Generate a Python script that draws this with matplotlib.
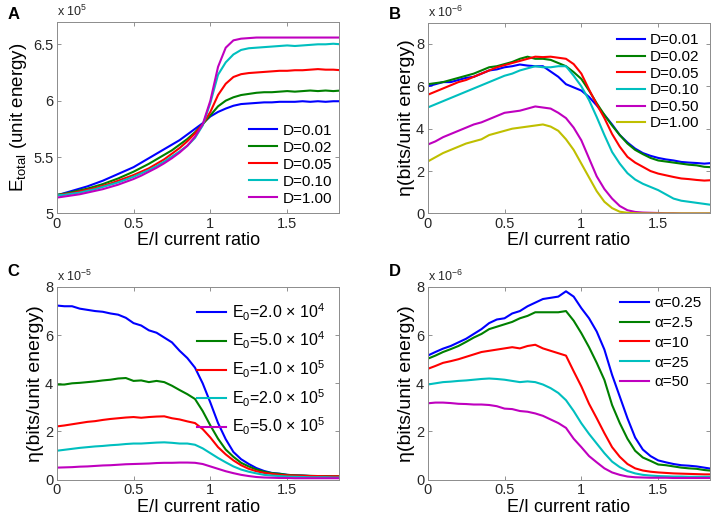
import matplotlib
matplotlib.use("Agg")

import matplotlib.pyplot as plt
from matplotlib.ticker import FormatStrFormatter
import numpy as np

plt.rcParams["font.family"] = ["Liberation Sans", "DejaVu Sans"]
plt.rcParams["mathtext.fontset"] = "custom"
plt.rcParams["mathtext.rm"] = "Liberation Sans"
plt.rcParams["mathtext.it"] = "Liberation Sans:italic"

# E/I current ratio (shared x grid of every panel)
ratio = [0.00, 0.05, 0.10, 0.15, 0.20, 0.25, 0.30, 0.35, 0.40, 0.45,
         0.50, 0.55, 0.60, 0.65, 0.70, 0.75, 0.80, 0.85, 0.90, 0.95,
         1.00, 1.05, 1.10, 1.15, 1.20, 1.25, 1.30, 1.35, 1.40, 1.45,
         1.50, 1.55, 1.60, 1.65, 1.70, 1.75, 1.80, 1.85]

# panel A: total energy (x 1e5)
labels_a = ["D=0.01", "D=0.02", "D=0.05", "D=0.10", "D=1.00"]
etot_d001 = [5.16, 5.18, 5.20, 5.22, 5.24, 5.265, 5.29, 5.32, 5.35, 5.38,
             5.41, 5.45, 5.49, 5.53, 5.57, 5.61, 5.65, 5.70, 5.75, 5.80,
             5.86, 5.90, 5.93, 5.955, 5.97, 5.975, 5.98, 5.985, 5.985, 5.99,
             5.99, 5.99, 5.995, 5.99, 5.995, 5.99, 5.995, 5.995]
etot_d002 = [5.165, 5.175, 5.19, 5.205, 5.22, 5.24, 5.26, 5.285, 5.31, 5.34,
             5.37, 5.405, 5.44, 5.48, 5.52, 5.56, 5.61, 5.66, 5.72, 5.79,
             5.87, 5.95, 6.00, 6.03, 6.05, 6.06, 6.07, 6.075, 6.075, 6.08,
             6.085, 6.08, 6.085, 6.09, 6.085, 6.09, 6.085, 6.09]
etot_d005 = [5.16, 5.17, 5.18, 5.195, 5.21, 5.225, 5.245, 5.265, 5.29, 5.315,
             5.34, 5.37, 5.40, 5.44, 5.48, 5.53, 5.58, 5.64, 5.71, 5.79,
             5.90, 6.05, 6.15, 6.21, 6.235, 6.245, 6.25, 6.255, 6.26, 6.265,
             6.265, 6.27, 6.27, 6.275, 6.28, 6.275, 6.275, 6.27]
etot_d010 = [5.16, 5.165, 5.175, 5.185, 5.20, 5.215, 5.235, 5.255, 5.275, 5.30,
             5.325, 5.355, 5.385, 5.42, 5.46, 5.505, 5.55, 5.60, 5.67, 5.78,
             5.98, 6.23, 6.34, 6.41, 6.45, 6.465, 6.47, 6.475, 6.48, 6.485,
             6.49, 6.485, 6.49, 6.495, 6.50, 6.50, 6.505, 6.50]
etot_d100 = [5.14, 5.15, 5.16, 5.17, 5.185, 5.20, 5.215, 5.235, 5.255, 5.28,
             5.305, 5.335, 5.37, 5.405, 5.445, 5.49, 5.54, 5.60, 5.68, 5.79,
             6.00, 6.30, 6.47, 6.535, 6.55, 6.555, 6.56, 6.56, 6.56, 6.56,
             6.56, 6.56, 6.56, 6.56, 6.56, 6.56, 6.56, 6.56]

# panel B: efficiency vs noise D (x 1e-6)
labels_b = ["D=0.01", "D=0.02", "D=0.05", "D=0.10", "D=0.50", "D=1.00"]
eta_d001 = [6.0, 6.1, 6.2, 6.2, 6.3, 6.4, 6.45, 6.6, 6.75, 6.8,
            6.9, 6.95, 7.03, 6.98, 6.95, 6.95, 6.7, 6.45, 6.1, 5.95,
            5.8, 5.5, 5.1, 4.65, 4.2, 3.7, 3.35, 3.06, 2.85, 2.72,
            2.62, 2.55, 2.5, 2.43, 2.4, 2.38, 2.35, 2.38]
eta_d002 = [6.1, 6.15, 6.2, 6.3, 6.4, 6.5, 6.6, 6.75, 6.9, 6.95,
            7.05, 7.15, 7.3, 7.4, 7.3, 7.3, 7.25, 7.1, 6.95, 6.67,
            6.35, 5.8, 5.2, 4.65, 4.15, 3.7, 3.3, 3.0, 2.8, 2.62,
            2.5, 2.45, 2.4, 2.35, 2.3, 2.27, 2.2, 2.18]
eta_d005 = [5.6, 5.75, 5.9, 6.05, 6.2, 6.3, 6.45, 6.6, 6.75, 6.9,
            7.0, 7.1, 7.2, 7.3, 7.4, 7.38, 7.4, 7.35, 7.3, 7.05,
            6.6, 5.85, 5.15, 4.5, 3.75, 3.15, 2.67, 2.4, 2.2, 2.0,
            1.88, 1.8, 1.72, 1.65, 1.62, 1.58, 1.55, 1.57]
eta_d010 = [5.0, 5.15, 5.3, 5.45, 5.6, 5.75, 5.9, 6.05, 6.2, 6.35,
            6.5, 6.6, 6.75, 6.85, 6.95, 6.9, 6.9, 6.95, 6.95, 6.5,
            6.0, 5.35, 4.55, 3.7, 2.9, 2.35, 1.9, 1.6, 1.4, 1.25,
            1.1, 0.9, 0.7, 0.6, 0.55, 0.5, 0.45, 0.4]
eta_d050 = [3.25, 3.4, 3.6, 3.75, 3.9, 4.05, 4.2, 4.3, 4.45, 4.6,
            4.75, 4.8, 4.85, 4.95, 5.05, 5.0, 4.95, 4.75, 4.5, 4.05,
            3.45, 2.6, 1.75, 1.15, 0.7, 0.35, 0.15, 0.07, 0.04, 0.03,
            0.02, 0.01, 0.01, 0.0, 0.0, 0.0, 0.0, 0.0]
eta_d100 = [2.45, 2.65, 2.85, 3.0, 3.15, 3.3, 3.4, 3.5, 3.7, 3.8,
            3.9, 4.0, 4.05, 4.1, 4.15, 4.2, 4.1, 3.9, 3.5, 3.0,
            2.35, 1.7, 1.05, 0.55, 0.25, 0.08, 0.03, 0.01, 0.0, 0.0,
            0.0, 0.0, 0.0, 0.0, 0.0, 0.0, 0.0, 0.0]

# panel C: efficiency vs E0 (x 1e-5)
labels_c = ["E$_0$=2.0 \u00d7 10$^4$", "E$_0$=5.0 \u00d7 10$^4$",
            "E$_0$=1.0 \u00d7 10$^5$", "E$_0$=2.0 \u00d7 10$^5$",
            "E$_0$=5.0 \u00d7 10$^5$"]
eta_e2e4 = [7.23, 7.2, 7.2, 7.1, 7.05, 7.0, 6.97, 6.9, 6.85, 6.72,
            6.5, 6.4, 6.2, 6.1, 5.9, 5.7, 5.35, 5.05, 4.65, 4.0,
            3.2, 2.35, 1.68, 1.15, 0.85, 0.65, 0.48, 0.36, 0.28, 0.25,
            0.2, 0.18, 0.17, 0.15, 0.14, 0.14, 0.13, 0.13]
eta_e5e4 = [3.95, 3.95, 4.0, 4.02, 4.05, 4.08, 4.12, 4.15, 4.2, 4.22,
            4.1, 4.12, 4.05, 4.1, 4.05, 3.9, 3.72, 3.55, 3.35, 2.85,
            2.25, 1.7, 1.25, 0.95, 0.7, 0.55, 0.42, 0.33, 0.27, 0.24,
            0.2, 0.18, 0.17, 0.16, 0.15, 0.15, 0.14, 0.14]
eta_e1e5 = [2.21, 2.25, 2.3, 2.35, 2.4, 2.43, 2.48, 2.52, 2.55, 2.58,
            2.6, 2.57, 2.6, 2.62, 2.63, 2.55, 2.5, 2.42, 2.35, 2.1,
            1.75, 1.35, 1.05, 0.8, 0.6, 0.45, 0.35, 0.28, 0.24, 0.2,
            0.18, 0.17, 0.16, 0.15, 0.15, 0.14, 0.14, 0.14]
eta_e2e5 = [1.2, 1.24, 1.28, 1.32, 1.35, 1.38, 1.4, 1.43, 1.45, 1.48,
            1.5, 1.5, 1.52, 1.54, 1.55, 1.53, 1.5, 1.5, 1.45, 1.3,
            1.1, 0.9, 0.72, 0.55, 0.42, 0.33, 0.26, 0.2, 0.17, 0.15,
            0.13, 0.12, 0.11, 0.1, 0.1, 0.1, 0.09, 0.09]
eta_e5e5 = [0.5, 0.51, 0.52, 0.54, 0.55, 0.57, 0.59, 0.6, 0.62, 0.64,
            0.65, 0.66, 0.67, 0.69, 0.7, 0.7, 0.71, 0.71, 0.7, 0.65,
            0.55, 0.45, 0.35, 0.27, 0.2, 0.15, 0.11, 0.09, 0.08, 0.07,
            0.07, 0.06, 0.06, 0.06, 0.06, 0.06, 0.06, 0.06]

# panel D: efficiency vs alpha (x 1e-6)
labels_d = ["\u03b1=0.25", "\u03b1=2.5", "\u03b1=10", "\u03b1=25", "\u03b1=50"]
eta_a025 = [5.15, 5.3, 5.44, 5.55, 5.7, 5.85, 6.05, 6.25, 6.5, 6.65,
            6.7, 6.9, 7.0, 7.2, 7.35, 7.5, 7.55, 7.6, 7.82, 7.6,
            7.12, 6.7, 6.15, 5.4, 4.35, 3.45, 2.55, 1.75, 1.25, 0.98,
            0.8, 0.72, 0.65, 0.6, 0.58, 0.55, 0.5, 0.45]
eta_a25 = [5.02, 5.15, 5.3, 5.42, 5.55, 5.72, 5.9, 6.05, 6.25, 6.35,
           6.45, 6.55, 6.7, 6.8, 6.95, 6.95, 6.95, 6.95, 7.0, 6.6,
           6.08, 5.5, 4.85, 4.14, 3.1, 2.35, 1.7, 1.2, 0.92, 0.78,
           0.63, 0.6, 0.55, 0.5, 0.47, 0.45, 0.4, 0.37]
eta_a10 = [4.6, 4.72, 4.85, 4.92, 5.0, 5.1, 5.2, 5.3, 5.35, 5.4,
           5.45, 5.5, 5.45, 5.55, 5.6, 5.45, 5.35, 5.25, 5.15, 4.5,
           3.87, 3.15, 2.55, 1.93, 1.35, 0.95, 0.65, 0.47, 0.38, 0.33,
           0.3, 0.28, 0.26, 0.25, 0.24, 0.23, 0.22, 0.22]
eta_a25b = [3.95, 4.0, 4.05, 4.07, 4.1, 4.12, 4.15, 4.18, 4.2, 4.18,
            4.15, 4.1, 4.05, 4.08, 4.05, 3.95, 3.8, 3.6, 3.3, 2.85,
            2.34, 1.9, 1.5, 1.1, 0.75, 0.52, 0.36, 0.26, 0.2, 0.17,
            0.15, 0.14, 0.13, 0.13, 0.12, 0.12, 0.12, 0.12]
eta_a50 = [3.17, 3.2, 3.2, 3.18, 3.15, 3.14, 3.12, 3.12, 3.1, 3.05,
           2.95, 2.93, 2.85, 2.82, 2.75, 2.65, 2.5, 2.35, 2.15, 1.7,
           1.35, 0.98, 0.72, 0.47, 0.3, 0.2, 0.13, 0.1, 0.09, 0.08,
           0.08, 0.08, 0.07, 0.07, 0.07, 0.07, 0.07, 0.07]

# matlab default line colours
colors = ["#0000ff", "#008000", "#ff0000", "#00bfbf", "#bf00bf", "#bfbf00"]

ETA_LABEL = "\u03b7(bits/unit energy)"

fig = plt.figure(figsize=(7.14, 5.18), dpi=100)

def setup_axes(rect, ylim, yticks, ylabel, ylsize, ylpad, expo, letter, letter_xy):
	ax = fig.add_axes(rect)
	ax.set_xlim(0, 1.84)
	ax.set_ylim(*ylim)
	ax.set_xticks([0, 0.5, 1, 1.5])
	ax.set_yticks(yticks)
	ax.xaxis.set_major_formatter(FormatStrFormatter("%g"))
	ax.yaxis.set_major_formatter(FormatStrFormatter("%g"))
	ax.tick_params(direction="in", length=3, width=0.6, top=True,
		right=True, labelsize=10.5, colors="0.5", labelcolor="0.15", pad=2.5)
	for s in ax.spines.values():
		s.set_color("0.55")
		s.set_linewidth(0.7)
	ax.set_xlabel("E/I current ratio", fontsize=13, labelpad=1)
	ax.set_ylabel(ylabel, fontsize=ylsize, labelpad=ylpad)
	ax.text(0.0, 1.015, expo, transform=ax.transAxes, fontsize=9,
		color="0.15", va="bottom", ha="left")
	fig.text(letter_xy[0], letter_xy[1], letter, fontsize=12,
		fontweight="bold", va="center", ha="left")
	return ax

def add_legend(ax, loc, size, spacing, pad):
	ax.legend(loc=loc, frameon=False, fontsize=size, handlelength=1.85,
		handletextpad=0.35, labelspacing=spacing, borderaxespad=pad,
		borderpad=0.2)

# panel A
axA = setup_axes([0.0794, 0.588, 0.396, 0.370], (5, 6.7), [5, 5.5, 6, 6.5],
	r"E$_{\rm total}$ (unit energy)", 13.5, 3, r"x 10$^{5}$", "A", (0.011, 0.972))
for vals, lab, c in zip([etot_d001, etot_d002, etot_d005, etot_d010, etot_d100],
		labels_a, colors[:5]):
	axA.plot(ratio, vals, color=c, lw=1.5, label=lab)
add_legend(axA, "lower right", 11, 0.2, 0.3)

# panel B
axB = setup_axes([0.599, 0.588, 0.396, 0.368], (0, 9), [0, 2, 4, 6, 8],
	ETA_LABEL, 14, 0.5, r"x 10$^{-6}$", "B", (0.545, 0.972))
for vals, lab, c in zip([eta_d001, eta_d002, eta_d005, eta_d010, eta_d050, eta_d100],
		labels_b, colors):
	axB.plot(ratio, vals, color=c, lw=1.5, label=lab)
add_legend(axB, "upper right", 11, 0.17, 0.5)

# panel C
axC = setup_axes([0.0794, 0.074, 0.396, 0.372], (0, 8), [0, 2, 4, 6, 8],
	ETA_LABEL, 14, 0.5, r"x 10$^{-5}$", "C", (0.011, 0.475))
for vals, lab, c in zip([eta_e2e4, eta_e5e4, eta_e1e5, eta_e2e5, eta_e5e5],
		labels_c, colors[:5]):
	axC.plot(ratio, vals, color=c, lw=1.5, label=lab)
add_legend(axC, "upper right", 11.5, 0.45, 0.7)

# panel D
axD = setup_axes([0.599, 0.074, 0.396, 0.372], (0, 8), [0, 2, 4, 6, 8],
	ETA_LABEL, 14, 0.5, r"x 10$^{-6}$", "D", (0.545, 0.475))
for vals, lab, c in zip([eta_a025, eta_a25, eta_a10, eta_a25b, eta_a50],
		labels_d, colors[:5]):
	axD.plot(ratio, vals, color=c, lw=1.5, label=lab)
add_legend(axD, "upper right", 11, 0.38, 0.4)

fig.savefig("out.png", dpi=100)
